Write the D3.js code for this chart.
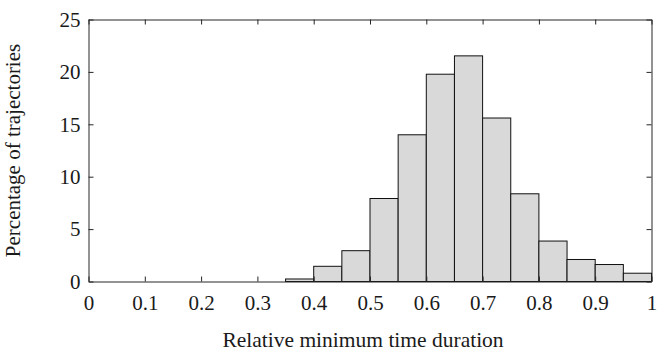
<!DOCTYPE html>
<html>
<head>
  <meta charset="utf-8">
<style>
  body { margin: 0; background: #fff; }
</style>
<script src="https://d3js.org/d3.v7.min.js"></script>
</head>
<body>
<svg width="659" height="352"></svg>
<script>

  // histogram bins (left edges) and percentage in each bin
  var binStart = [0, 0.05, 0.1, 0.15, 0.2, 0.25, 0.3, 0.35, 0.4, 0.45,
                  0.5, 0.55, 0.6, 0.65, 0.7, 0.75, 0.8, 0.85, 0.9, 0.95];
  var percent  = [0, 0, 0, 0, 0, 0, 0, 0.24, 1.45, 2.94,
                  7.92, 14.0, 19.78, 21.53, 15.6, 8.37, 3.86, 2.1, 1.62, 0.79];
  var binWidth = 0.05;

  var xTicks = [0, 0.1, 0.2, 0.3, 0.4, 0.5, 0.6, 0.7, 0.8, 0.9, 1];
  var xTickLabels = ["0", "0.1", "0.2", "0.3", "0.4", "0.5", "0.6", "0.7", "0.8", "0.9", "1"];
  var yTicks = [0, 5, 10, 15, 20, 25];

  var xTitle = "Relative minimum time duration";
  var yTitle = "Percentage of trajectories";

  var FONT = "Liberation Serif";

  var svg = d3.select("svg"),
      plotL = 88.5, plotR = 651.5, plotT = 19.5, plotB = 281.5;

  var x = d3.scaleLinear().domain([0, 1]).range([plotL, plotR]);
  var y = d3.scaleLinear().domain([0, 25]).range([plotB, plotT]);

  var data = binStart.map(function(b, i) { return {x0: b, v: percent[i]}; });

  svg.append("g")
    .selectAll("rect")
    .data(data)
    .enter().append("rect")
      .attr("x", function(d) { return x(d.x0); })
      .attr("width", function(d) { return x(d.x0 + binWidth) - x(d.x0); })
      .attr("y", function(d) { return y(d.v); })
      .attr("height", function(d) { return y(0) - y(d.v); })
      .attr("fill", "#d9d9d9")
      .attr("stroke", "#111")
      .attr("stroke-width", 1);

  var tickFmt = function(d) { return xTickLabels[xTicks.indexOf(d)]; };

  function style(g) {
    g.attr("font-family", null).attr("font-size", null);
    g.select(".domain").attr("stroke", "#262626");
    g.selectAll(".tick line").attr("stroke", "#262626");
    g.selectAll("text").attr("fill", "#1a1a1a")
      .style("font-family", FONT).style("font-size", "21px");
  }

  svg.append("g")
      .attr("transform", "translate(0," + plotB + ")")
      .call(d3.axisBottom(x).tickValues(xTicks).tickFormat(tickFmt)
        .tickSizeInner(-5).tickSizeOuter(0).tickPadding(14))
      .call(style);

  svg.append("g")
      .attr("transform", "translate(0," + plotT + ")")
      .call(d3.axisTop(x).tickValues(xTicks).tickFormat("")
        .tickSizeInner(-5).tickSizeOuter(0))
      .call(style);

  svg.append("g")
      .attr("transform", "translate(" + plotL + ",0)")
      .call(d3.axisLeft(y).tickValues(yTicks)
        .tickSizeInner(-5).tickSizeOuter(0).tickPadding(8))
      .call(style);

  svg.append("g")
      .attr("transform", "translate(" + plotR + ",0)")
      .call(d3.axisRight(y).tickValues(yTicks).tickFormat("")
        .tickSizeInner(-5).tickSizeOuter(0))
      .call(style);

  svg.append("text")
      .attr("x", 363)
      .attr("y", 347)
      .attr("text-anchor", "middle")
      .style("font-family", FONT)
      .style("font-size", "21.5px")
      .attr("fill", "#1a1a1a")
      .text(xTitle);

  svg.append("text")
      .attr("transform", "translate(20," + ((plotT + plotB) / 2) + ") rotate(-90)")
      .attr("text-anchor", "middle")
      .style("font-family", FONT)
      .style("font-size", "21px")
      .attr("fill", "#1a1a1a")
      .text(yTitle);

</script>
</body>
</html>
